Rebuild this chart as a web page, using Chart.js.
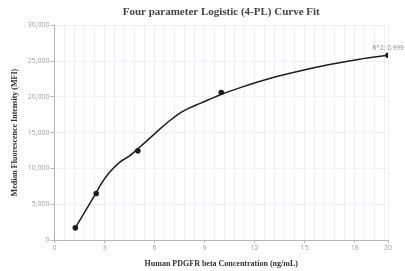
<!DOCTYPE html>
<html>
<head>
<meta charset="utf-8">
<script src="https://cdn.jsdelivr.net/npm/chart.js@4.4.0/dist/chart.umd.min.js"></script>
<style>
  html, body { margin: 0; padding: 0; background: #ffffff; }
  #wrap { width: 405px; height: 271px; position: relative; }
</style>
</head>
<body>
<div id="wrap"><canvas id="c"></canvas></div>
<script>
// Measured standards (concentration ng/mL, MFI)
const pointX = [1.25, 2.5, 5, 10, 20];
const pointY = [1700, 6500, 12450, 20600, 25800];

// Fitted curve
const curveX = [1.25, 2.5, 2.75, 3.3, 3.9, 4.5, 5.1, 5.7, 6.3, 6.9, 7.5, 8.1, 8.7, 9.3, 9.9, 11.1, 12.9, 14.7, 16.5, 18.3, 20];
const curveY = [1700, 6600, 7650, 9450, 10850, 11750, 12950, 14200, 15450, 16650, 17700, 18450, 19050, 19650, 20250, 21250, 22550, 23600, 24500, 25250, 25800];

const xLabelTicks = [0, 3, 6, 9, 12, 15, 18, 20];
const yTicks = [0, 5000, 10000, 15000, 20000, 25000, 30000];
const rSquaredText = "R^2: 0.999";

const titleText = "Four parameter Logistic (4-PL) Curve Fit";
const xTitle = "Human PDGFR beta Concentration (ng/mL)";
const yTitle = "Median Fluorescence Intensity (MFI)";

const isLabelled = v => xLabelTicks.some(t => Math.abs(t - v) < 1e-6);

const r2Plugin = {
  id: 'r2',
  afterDatasetsDraw(chart) {
    const meta = chart.getDatasetMeta(1);
    const last = meta.data[meta.data.length - 1];
    if (!last) return;
    const ctx = chart.ctx;
    ctx.save();
    ctx.font = '6.5px "Open Sans", sans-serif';
    ctx.fillStyle = '#8a8a8a';
    ctx.textAlign = 'center';
    ctx.textBaseline = 'middle';
    ctx.fillText(rSquaredText, last.x, last.y - 7);
    ctx.restore();
  }
};

new Chart(document.getElementById('c'), {
  type: 'scatter',
  data: {
    datasets: [
      {
        data: curveX.map((x, i) => ({x, y: curveY[i]})),
        showLine: true,
        borderColor: '#1e1e1e',
        borderWidth: 1.5,
        pointRadius: 0,
        pointHoverRadius: 0,
        cubicInterpolationMode: 'monotone',
        fill: false
      },
      {
        data: pointX.map((x, i) => ({x, y: pointY[i]})),
        showLine: false,
        backgroundColor: '#1e1e1e',
        borderColor: '#1e1e1e',
        pointRadius: 2.8,
        pointBorderWidth: 0
      }
    ]
  },
  options: {
    responsive: true,
    maintainAspectRatio: false,
    animation: false,
    layout: { padding: { left: 0, right: 17, top: 0, bottom: 0 } },
    plugins: {
      legend: { display: false },
      tooltip: { enabled: false },
      title: {
        display: true,
        text: titleText,
        fullSize: false,
        color: '#444444',
        font: { family: '"Liberation Serif", "Times New Roman", serif', size: 11, weight: 'bold' },
        padding: { top: 6, bottom: 6 }
      }
    },
    scales: {
      x: {
        type: 'linear',
        min: 0,
        max: 20,
        afterFit: s => { s.height = 31; },
        afterBuildTicks: s => {
          const t = [];
          for (let i = 0; i <= 33; i++) t.push({ value: Math.round(i * 0.6 * 10) / 10 });
          t.push({ value: 20 });
          s.ticks = t;
        },
        border: { display: true, color: '#b5b5b5', width: 1 },
        grid: {
          color: '#eef0f5',
          lineWidth: 1,
          drawTicks: true,
          tickLength: 3,
          tickColor: ctx => (ctx.tick && isLabelled(ctx.tick.value)) ? '#b5b5b5' : 'rgba(0,0,0,0)'
        },
        ticks: {
          autoSkip: false,
          maxRotation: 0,
          padding: 1,
          color: '#a0a0a0',
          font: { family: '"Open Sans", sans-serif', size: 7 },
          callback: v => isLabelled(v) ? String(v) : ''
        },
        title: {
          display: true,
          text: xTitle,
          color: '#333333',
          font: { family: '"Liberation Serif", "Times New Roman", serif', size: 8, weight: 'bold' },
          padding: { top: 0, bottom: 2 }
        }
      },
      y: {
        type: 'linear',
        min: 0,
        max: 30000,
        afterFit: s => { s.width = 54.5; },
        afterBuildTicks: s => { s.ticks = yTicks.map(v => ({ value: v })); },
        border: { display: true, color: '#b5b5b5', width: 1 },
        grid: {
          color: '#eef0f5',
          lineWidth: 1,
          drawTicks: true,
          tickLength: 4,
          tickColor: '#b5b5b5'
        },
        ticks: {
          padding: 1,
          color: '#a0a0a0',
          font: { family: '"Open Sans", sans-serif', size: 7 },
          callback: v => v.toLocaleString('en-US')
        },
        title: {
          display: true,
          text: yTitle,
          color: '#333333',
          font: { family: '"Liberation Serif", "Times New Roman", serif', size: 8, weight: 'bold' },
          padding: { top: 10, bottom: 0 }
        }
      }
    }
  },
  plugins: [r2Plugin]
});
</script>
</body>
</html>
